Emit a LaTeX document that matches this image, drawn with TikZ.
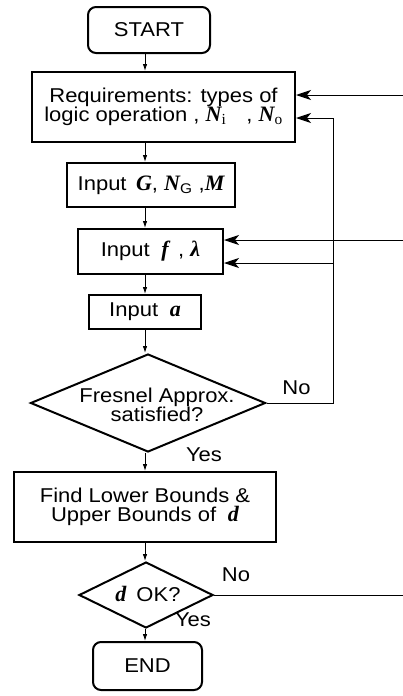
\documentclass[tikz,border=0pt]{standalone}
\usepackage{fontspec}
\setmainfont[FakeStretch=1.1]{Liberation Sans}
\newfontfamily\serfam[Scale=1.1]{Liberation Serif}
\newcommand{\mv}[1]{{\serfam\bfseries\itshape #1}}
\newcommand{\fs}{\fontsize{20}{19}\selectfont}
\usetikzlibrary{shapes.geometric,arrows.meta}
\begin{document}
\begin{tikzpicture}[x=1pt,y=-1pt,
  box/.style={draw, line width=2pt, inner sep=0pt, align=center, font=\fs},
  rbox/.style={box, rounded corners=8pt},
  dia/.style={draw, diamond, line width=2pt, inner sep=0pt},
  txt/.style={inner sep=0pt, align=center, font=\fs},
  conn/.style={line width=0.9pt, -{Latex[length=7pt,width=4.5pt]}},
  side/.style={line width=1pt, -{Stealth[length=15pt,width=10pt,inset=4pt]}},
  plain/.style={line width=1pt}]
\useasboundingbox (0,0) rectangle (403,696);
\fill[white] (0,0) rectangle (403,696);
\coordinate (axis) at (145,0);
% nodes
\node[rbox, minimum width=122pt, minimum height=46pt] (start) at (149,30) {START};
\node[box, minimum width=263pt, minimum height=70pt] (req) at (163.5,107)
  {Requirements: types of\\logic operation , \mv{N}\textsubscript{\serfam i}\quad , \mv{N}\textsubscript{\serfam o}};
\node[box, minimum width=168pt, minimum height=44pt] (inG) at (151,185)
  {Input\, \mv{G}, \mv{N}\textsubscript{G} ,\mv{M}};
\node[box, minimum width=145pt, minimum height=45pt] (inF) at (150.5,251.5)
  {Input\; \mv{f}\, , \mv{λ}};
\node[box, minimum width=112pt, minimum height=34pt] (inA) at (145,312)
  {Input\; \mv{a}};
\node[dia, minimum width=235pt, minimum height=98pt] (fres) at (148,403) {};
\node[txt] (fresT) at (157,405) {Fresnel Approx.\\satisfied?};
\node[box, minimum width=262pt, minimum height=70pt] (find) at (145,507)
  {Find Lower Bounds \&\\Upper Bounds of\; \mv{d}};
\node[dia, minimum width=134pt, minimum height=66pt] (dok) at (146,595) {};
\node[txt] (dokT) at (148,594) {\mv{d}\enspace OK?};
\node[rbox, minimum width=109pt, minimum height=48pt] (end) at (147.5,666) {END};
% labels
\node[txt] (no1) at (296.5,388) {No};
\node[txt] (yes1) at (204,455) {Yes};
\node[txt] (no2) at (236,575) {No};
\node[txt] (yes2) at (193,620) {Yes};
% main flow
\draw[conn] (start.south -| axis) -- (req.north -| axis);
\draw[conn] (req.south -| axis) -- (inG.north -| axis);
\draw[conn] (inG.south -| axis) -- (inF.north -| axis);
\draw[conn] (inF.south -| axis) -- (inA.north -| axis);
\draw[conn] (inA.south -| axis) -- (fres.north -| axis);
\draw[conn] (fres.south -| axis) -- (find.north -| axis);
\draw[conn] (find.south -| axis) -- (dok.north -| axis);
\draw[conn] (dok.south -| axis) -- (end.north -| axis);
% feedback
\coordinate (rq1) at (403,95);
\coordinate (rq2) at (333,118);
\coordinate (f1) at (403,240);
\coordinate (f2) at (333,263);
\coordinate (dk) at (403,594);
\draw[side] (rq1) -- (rq1 -| req.east);
\draw[side] (fres.east) -- (fres.east -| rq2) -- (rq2) -- (rq2 -| req.east);
\draw[side] (f1) -- (f1 -| inF.east);
\draw[side] (f2) -- (f2 -| inF.east);
\draw[plain] (dok.east) -- (dok.east -| dk);
\end{tikzpicture}
\end{document}
